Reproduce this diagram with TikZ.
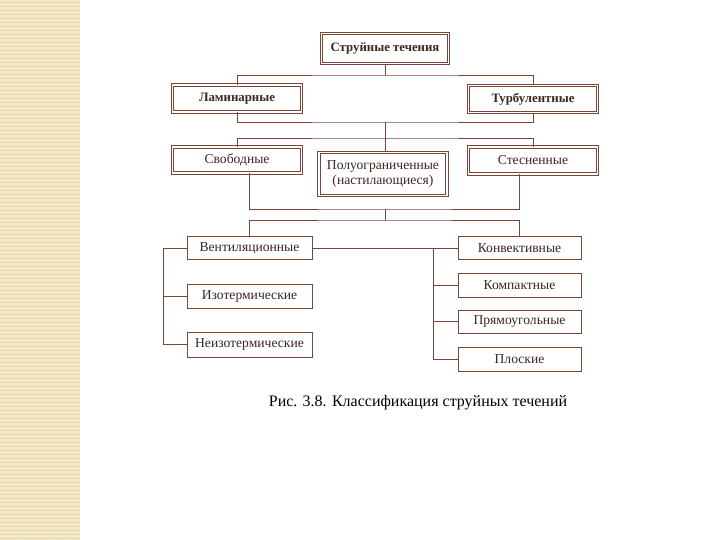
\documentclass[tikz,border=0pt]{standalone}
\usepackage{fontspec}
\setmainfont{Liberation Serif}
\usepackage{xcolor}
\usetikzlibrary{calc}
\definecolor{strip}{HTML}{F3E8C8}
\definecolor{stripline}{HTML}{E6D6A8}
\definecolor{brownline}{HTML}{7B4636}
\definecolor{browntext}{HTML}{3B2620}
\tikzset{
  link/.style={draw=brownline,line width=.9pt},
  basebox/.style={draw=brownline,inner sep=0pt,align=center,text=browntext,
                  font=\fontsize{13.6}{15}\selectfont},
  dbox/.style={basebox,line width=.9pt,double,double distance=1.4pt,fill=white},
  sbox/.style={basebox,line width=.9pt,fill=white},
  head/.style={font=\fontsize{12.8}{14}\selectfont\bfseries},
  capt/.style={font=\fontsize{16}{18}\selectfont,text=black}
}
\begin{document}
\begin{tikzpicture}[x=1pt,y=-1pt]
  \useasboundingbox (0,0) rectangle (720,540);
  % left strip
  \fill[strip] (0,0) rectangle (80,540);
  \foreach \y in {2,6,...,538}
    \draw[stripline,line width=.8pt] (0,\y) -- (80,\y);
  \foreach \x in {16,48,64}
    \draw[stripline!60,line width=.6pt] (\x,0) -- (\x,540);

  % levels 1--3
  \node[dbox,head,minimum width=127pt,minimum height=30pt] (root) at (385,48.5) {Струйные течения};
  \node[dbox,head,minimum width=129pt,minimum height=27pt] (lam) at (237,98.5) {Ламинарные};
  \node[dbox,head,minimum width=129pt,minimum height=27pt] (turb) at (533,99) {Турбулентные};
  \node[dbox,minimum width=129pt,minimum height=26pt] (free) at (237,160) {Свободные};
  \node[dbox,minimum width=128pt,minimum height=43pt] (semi) at (383,174) {Полуограниченные\\(настилающиеся)};
  \node[dbox,minimum width=129pt,minimum height=27pt] (conf) at (533,160.5) {Стесненные};

  % level 4
  \node[sbox,minimum width=125pt,minimum height=23pt] (vent) at (249.5,248) {Вентиляционные};
  \node[sbox,minimum width=125pt,minimum height=24pt] (iso) at (249.5,296) {Изотермические};
  \node[sbox,minimum width=125pt,minimum height=25pt] (noniso) at (249.5,344.5) {Неизотермические};
  \node[sbox,minimum width=123pt,minimum height=23pt] (conv) at (519.5,248) {Конвективные};
  \node[sbox,minimum width=123pt,minimum height=24pt] (comp) at (519.5,285) {Компактные};
  \node[sbox,minimum width=123pt,minimum height=23pt] (rect) at (519.5,321.5) {Прямоугольные};
  \node[sbox,minimum width=123pt,minimum height=24pt] (flat) at (519.5,359.5) {Плоские};

  \node[capt] (cap) at (418,403) {Рис. 3.8. Классификация струйных течений};

  % junctions
  \coordinate (j1) at (385,75);
  \coordinate (j2) at (385,122);
  \coordinate (j3) at (385,138);
  \coordinate (j4) at (385,209);
  \coordinate (j5) at (385,220);
  \coordinate (bl) at (163,0);
  \coordinate (br) at (433,0);

  \draw[link] (root.south) -- (j1);
  \draw[link] (lam.north) |- (j1) -| (turb.north);
  \draw[link] (lam.south) |- (j2) -| (turb.south);
  \draw[link] (j2) -- (j3);
  \draw[link] (free.north) |- (j3) -| (conf.north);
  \draw[link] (j3) -- (j3 |- semi.north);
  \draw[link] (free.south -| vent.north) |- (j4) -| (conf.south -| conv.north);
  \draw[link] (j4) -- (j5);
  \draw[link] (vent.north) |- (j5) -| (conv.north);
  \draw[link] (vent.east) -- (conv.west);

  \draw[link] (vent.west) -- (vent.west -| bl) |- (noniso.west);
  \draw[link] (iso.west) -- (iso.west -| bl);
  \draw[link] (conv.west -| br) |- (flat.west);
  \draw[link] (comp.west) -- (comp.west -| br);
  \draw[link] (rect.west) -- (rect.west -| br);
\end{tikzpicture}
\end{document}
